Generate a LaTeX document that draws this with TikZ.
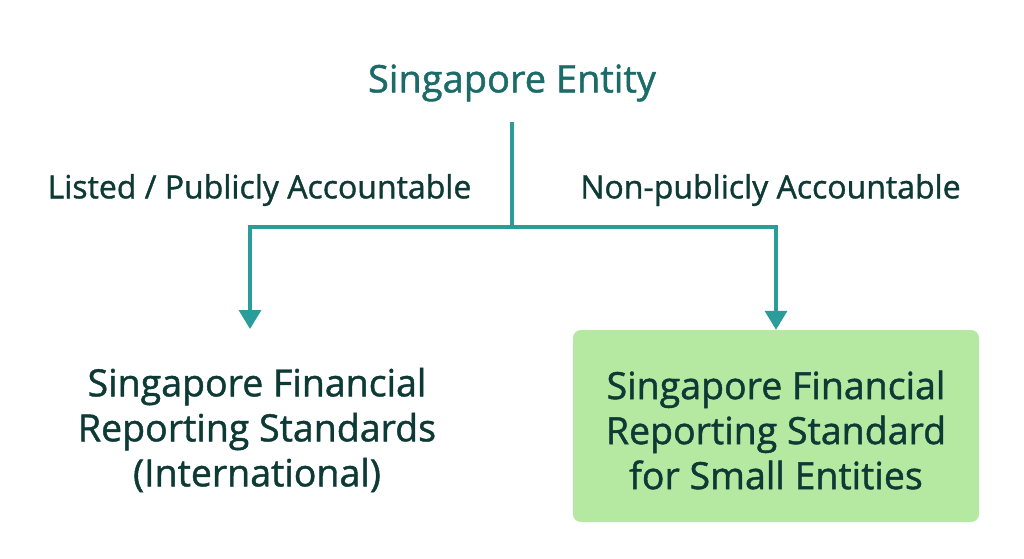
\documentclass[tikz,border=0pt]{standalone}
\usepackage{fontspec}
\setmainfont{Open Sans}
\newfontfamily\medf{Open Sans}[FakeBold=1.2]
\usetikzlibrary{arrows.meta}
\definecolor{teal1}{HTML}{2A9D9A}
\definecolor{titlec}{HTML}{1B6B68}
\definecolor{darkt}{HTML}{0E3A36}
\definecolor{greenbox}{HTML}{B5E8A0}
\begin{document}
\begin{tikzpicture}[x=1pt,y=-1pt,
  lbl/.style={text=darkt,font=\medf\fontsize{32}{36}\selectfont,inner sep=0pt,anchor=center},
  big/.style={text=darkt,font=\medf\fontsize{37.5}{45}\selectfont,align=center,inner sep=0pt},
  conn/.style={draw=teal1,line width=3.5pt,line join=miter},
  arr/.style={conn,-{Triangle[width=22pt,length=19pt]}}]
\useasboundingbox (0,0) rectangle (1024,558);
\node[text=titlec,font=\medf\fontsize{38}{42}\selectfont,inner sep=0pt] (title) at (512,83) {Singapore Entity};
\coordinate (top) at (512,122);
\coordinate (mid) at (512,227);
\coordinate (lend) at (250,329);
\node[lbl] (l1) at (259.5,190) {Listed / Publicly Accountable};
\node[lbl] (l2) at (770.5,190) {Non-publicly Accountable};
\node[draw=none,fill=greenbox,rounded corners=8pt,minimum width=406pt,minimum height=192pt] (box) at (776,426) {};
\node[big] (left) at (257,430) {Singapore Financial\\Reporting Standards\\(International)};
\node[big] (right) at (776,430) {Singapore Financial\\Reporting Standard\\for Small Entities};
\draw[conn] (top) -- (mid);
\draw[arr] (mid) -| (lend);
\draw[arr] (mid) -| (box.north);
\end{tikzpicture}
\end{document}
